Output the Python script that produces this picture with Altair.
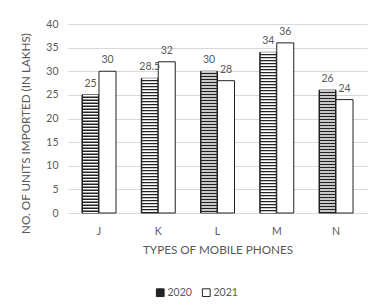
import altair as alt
import pandas as pd

types = ["J", "K", "L", "M", "N"]
v2020 = [25, 28.5, 30, 34, 26]
v2021 = [30, 32, 28, 36, 24]
years = ["2020", "2021"]
y_ticks = [0, 5, 10, 15, 20, 25, 30, 35, 40]

rows = []
for t, a, b in zip(types, v2020, v2021):
    rows.append({"type": t, "year": "2020", "value": a})
    rows.append({"type": t, "year": "2021", "value": b})
df = pd.DataFrame(rows)

FONT = "Lato"
GRAY = "#595959"

x = alt.X("type:N", sort=types,
          scale=alt.Scale(paddingInner=0.426, paddingOuter=0.236),
          axis=alt.Axis(title="TYPES OF MOBILE PHONES", labelAngle=0,
                        labelPadding=13, titlePadding=8, ticks=False,
                        domainColor="#d9d9d9", labelColor=GRAY, titleColor=GRAY,
                        labelFontSize=10.5, titleFontSize=11.7, titleFontWeight="normal",
                        labelFont=FONT, titleFont=FONT))
xo = alt.XOffset("year:N", sort=years, scale=alt.Scale(paddingInner=0, paddingOuter=0))
y = alt.Y("value:Q", scale=alt.Scale(domain=[0, 40], nice=False),
          axis=alt.Axis(title="NO. OF UNITS IMPORTED (IN LAKHS)", values=y_ticks,
                        domain=False, ticks=False, labelPadding=10,
                        gridColor="#d9d9d9", labelColor=GRAY, titleColor=GRAY,
                        labelFontSize=10.5, titleFontSize=11.7, titleFontWeight="normal",
                        labelFont=FONT, titleFont=FONT, titleX=-37, titleY=109))

base = alt.Chart(df)

bars = base.mark_bar(stroke="#222", strokeWidth=1).encode(
    x=x, xOffset=xo, y=y,
    fill=alt.Fill("year:N", sort=years,
                  scale=alt.Scale(domain=years, range=["#222222", "#ffffff"]),
                  legend=alt.Legend(title=None, orient="none", legendX=87, legendY=263,
                                    direction="horizontal", symbolType="square",
                                    symbolSize=60, symbolStrokeColor="#222",
                                    symbolStrokeWidth=1, labelFontSize=10.5,
                                    labelColor=GRAY, labelFont=FONT,
                                    columnPadding=8, labelOffset=2)),
)

stripes = base.transform_filter(alt.datum.year == "2020").mark_rule(
    color="white", strokeWidth=15, strokeDash=[1.6, 1.4], strokeCap="butt"
).encode(x=x, xOffset=xo, y=y, y2=alt.datum(0))

labels = base.mark_text(baseline="bottom", dy=-6, fontSize=10.5, color=GRAY, font=FONT).encode(
    x=x, xOffset=xo, y=y, text=alt.Text("value:Q")
)

chart = alt.layer(bars, stripes, labels).properties(
    width=299, height=189,
    autosize=alt.AutoSizeParams(type="none"),
    padding={"left": 60, "top": 16, "right": 2, "bottom": 85},
).configure_view(stroke=None)

chart.save("out.html", embed_options={"renderer": "svg", "actions": False})
